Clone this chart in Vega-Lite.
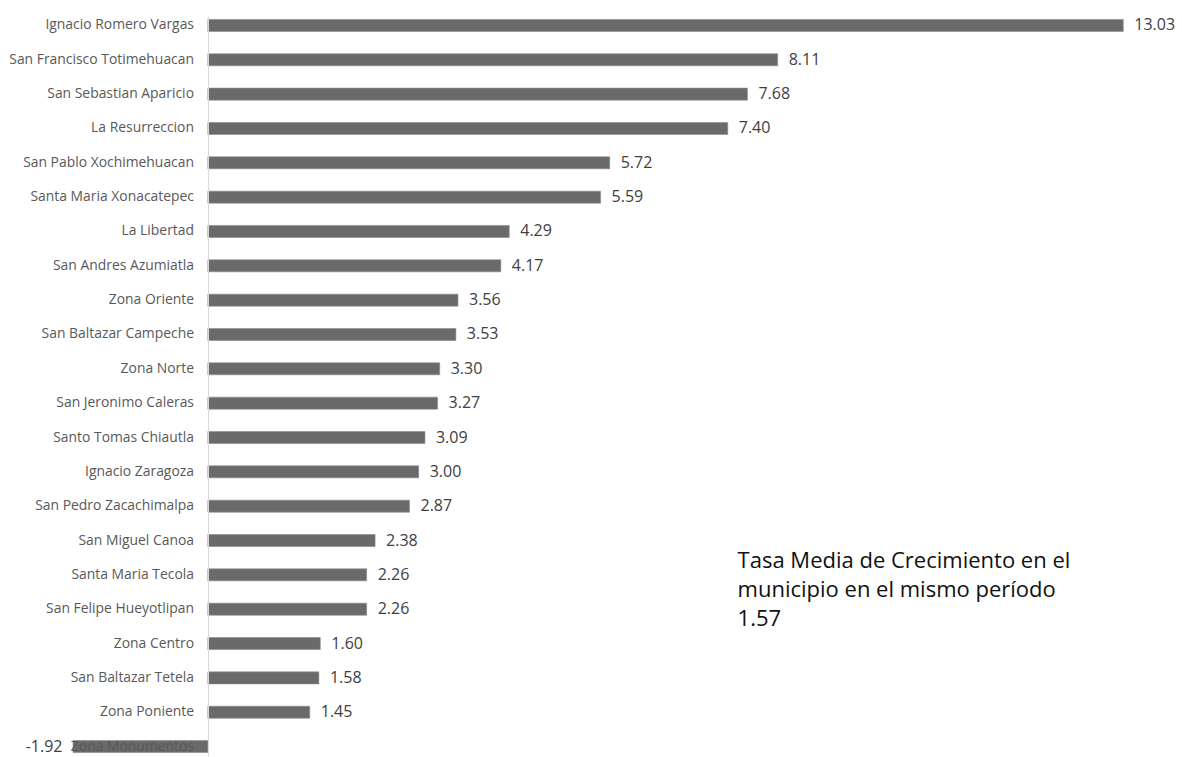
{
  "$schema": "https://vega.github.io/schema/vega-lite/v6.json",
  "width": 1109,
  "height": 740,
  "autosize": {"type": "none"},
  "padding": {"left": 73, "top": 16, "right": 0, "bottom": 1},
  "background": "white",
  "config": {"view": {"stroke": null}},
  "datasets": {
    "zonas": [
      {"zona": "Ignacio Romero Vargas", "tasa": 13.03},
      {"zona": "San Francisco Totimehuacan", "tasa": 8.11},
      {"zona": "San Sebastian Aparicio", "tasa": 7.68},
      {"zona": "La Resurreccion", "tasa": 7.40},
      {"zona": "San Pablo Xochimehuacan", "tasa": 5.72},
      {"zona": "Santa Maria Xonacatepec", "tasa": 5.59},
      {"zona": "La Libertad", "tasa": 4.29},
      {"zona": "San Andres Azumiatla", "tasa": 4.17},
      {"zona": "Zona Oriente", "tasa": 3.56},
      {"zona": "San Baltazar Campeche", "tasa": 3.53},
      {"zona": "Zona Norte", "tasa": 3.30},
      {"zona": "San Jeronimo Caleras", "tasa": 3.27},
      {"zona": "Santo Tomas Chiautla", "tasa": 3.09},
      {"zona": "Ignacio Zaragoza", "tasa": 3.00},
      {"zona": "San Pedro Zacachimalpa", "tasa": 2.87},
      {"zona": "San Miguel Canoa", "tasa": 2.38},
      {"zona": "Santa Maria Tecola", "tasa": 2.26},
      {"zona": "San Felipe Hueyotlipan", "tasa": 2.26},
      {"zona": "Zona Centro", "tasa": 1.60},
      {"zona": "San Baltazar Tetela", "tasa": 1.58},
      {"zona": "Zona Poniente", "tasa": 1.45},
      {"zona": "Zona Monumentos", "tasa": -1.92}
    ],
    "nota": [
      {"texto": "Tasa Media de Crecimiento en el\nmunicipio en el mismo período\n1.57", "pos": 7.54, "zona": "San Miguel Canoa"}
    ]
  },
  "encoding": {
    "y": {
      "field": "zona", "type": "nominal", "sort": null,
      "scale": {"paddingInner": 0.65, "paddingOuter": 0.1},
      "axis": {
        "title": null, "offset": -135, "ticks": false, "zindex": 1,
        "domainColor": "#d9d9d9", "domainWidth": 1,
        "labelFont": "Open Sans", "labelFontSize": 13.9, "labelColor": "#595959",
        "labelPadding": 14.5, "labelLimit": 300
      }
    },
    "x": {
      "field": "tasa", "type": "quantitative",
      "scale": {"domain": [-1.92, 13.866], "nice": false, "zero": false},
      "axis": null
    }
  },
  "layer": [
    {
      "data": {"name": "zonas"},
      "mark": {"type": "bar", "color": "#6a6a6a", "stroke": "#8a8a8a", "strokeWidth": 0.6}
    },
    {
      "data": {"name": "zonas"},
      "transform": [{"filter": "datum.tasa >= 0"}],
      "mark": {"type": "text", "align": "left", "dx": 11, "font": "Open Sans", "fontSize": 16, "color": "#404040"},
      "encoding": {"text": {"field": "tasa", "type": "quantitative", "format": ".2f"}}
    },
    {
      "data": {"name": "zonas"},
      "transform": [{"filter": "datum.tasa < 0"}],
      "mark": {"type": "text", "align": "right", "dx": -10.5, "font": "Open Sans", "fontSize": 16, "color": "#404040"},
      "encoding": {"text": {"field": "tasa", "type": "nominal"}}
    },
    {
      "data": {"name": "nota"},
      "mark": {"type": "text", "align": "left", "baseline": "alphabetic", "dy": 27, "lineBreak": "\n", "lineHeight": 29, "font": "Open Sans", "fontSize": 22, "color": "#111111"},
      "encoding": {
        "x": {"field": "pos", "type": "quantitative"},
        "y": {"field": "zona", "type": "nominal"},
        "text": {"field": "texto", "type": "nominal"}
      }
    }
  ]
}
